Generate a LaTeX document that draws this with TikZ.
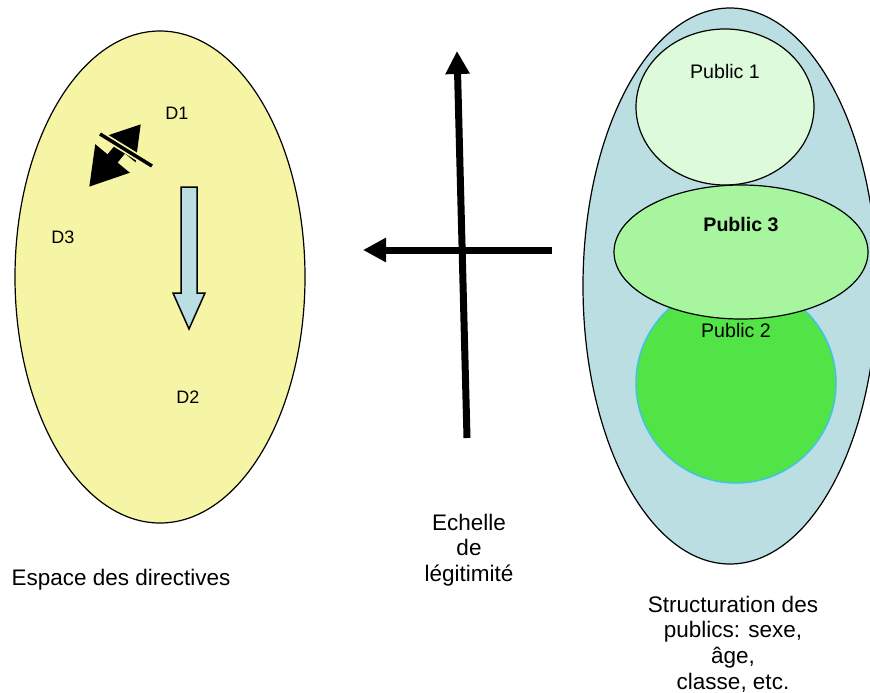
\documentclass[tikz,border=0pt]{standalone}
\usepackage{fontspec}
\setmainfont{Liberation Sans}
\usetikzlibrary{arrows.meta}
\definecolor{dirYellow}{RGB}{245,245,165}
\definecolor{pubBlue}{RGB}{186,222,226}
\definecolor{pubPale}{RGB}{221,250,218}
\definecolor{pubMid}{RGB}{168,245,160}
\definecolor{pubGreen}{RGB}{82,228,70}
\definecolor{pubRim}{RGB}{64,196,224}
\tikzset{
  lbl/.style={font=\fontsize{22.5}{25.7}\selectfont, align=center},
  pub/.style={font=\fontsize{19.6}{22}\selectfont},
  dlbl/.style={font=\fontsize{18}{20}\selectfont},
  axis/.style={line width=7pt, -{Triangle[length=23pt,width=23pt]}}
}
\begin{document}
\begin{tikzpicture}[x=1pt,y=-1pt]
\useasboundingbox (0,0) rectangle (870,693);
% Draw the space of directives
    \draw[fill=dirYellow,line width=1.2pt] (160,277) ellipse (145 and 246);
  \foreach \n/\i/\j in {d1/177/113, d3/63/237, d2/188/397} {
    \node[dlbl] (\n) at (\i,\j) {\MakeUppercase{\n}};
  }
  % double arrow crossed by a bar
    \coordinate (dLow) at (89,187);
    \coordinate (dHigh) at (141,124);
    \coordinate (barA) at (100,134);
    \coordinate (barB) at (152,166);
    \draw[line width=13pt, {Triangle[length=37pt,width=42pt]}-{Triangle[length=33pt,width=38pt]}] (dLow) -- (dHigh);
    \draw[dirYellow, line width=7pt] (barA) -- (barB);
    \draw[line width=3.5pt] (barA) -- (barB);
  % light blue arrow
    \draw[fill=pubBlue, line width=1.5pt, line join=miter]
      (181,187) -- (197,187) -- (197,293) -- (205,293) -- (189,329)
      -- (173,293) -- (181,293) -- cycle;
    \node[lbl] (espace) at (121,580) {Espace des directives};

% Draw the legitimacy cross
    \coordinate (vBot) at (467,438);
    \coordinate (vTop) at (457,51);
    \coordinate (hRight) at (552,250);
    \coordinate (hLeft) at (363,250);
    \draw[axis] (vBot) -- (vTop);
    \draw[axis] (hRight) -- (hLeft);
    \node[lbl] (echelle) at (469,550) {Echelle\\de\\légitimité};

% Draw the publics
    \draw[fill=pubBlue, line width=1.2pt] (730,286) ellipse (147 and 278);
    \draw[fill=pubGreen, draw=pubRim, line width=1.5pt] (736,383) circle (100);
    \draw[fill=pubPale, line width=1.2pt] (725,107) ellipse (89 and 78);
    \draw[fill=pubMid, line width=1.2pt] (741,252) ellipse (127 and 67);
    \node[pub] (pub1) at (725,71) {Public 1};
    \node[pub,font=\fontsize{19.6}{22}\selectfont\bfseries] (pub3) at (741,225) {Public 3};
    \node[pub] (pub2) at (736,330) {Public 2};
    \node[lbl] (struct) at (733,644) {Structuration des\\publics: sexe,\\âge,\\classe, etc.};
\end{tikzpicture}
\end{document}
